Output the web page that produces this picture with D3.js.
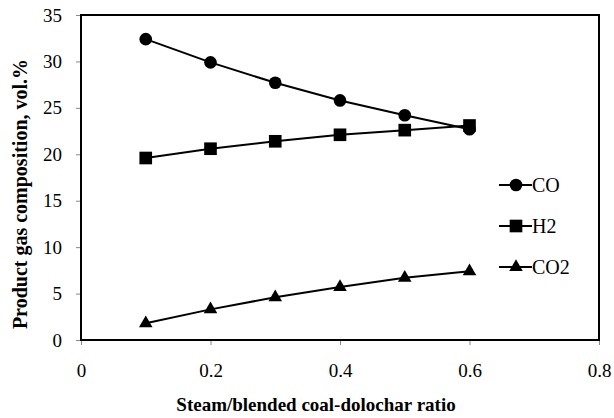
<!DOCTYPE html>
<html>
<head>
<meta charset="utf-8">
<script src="https://cdn.jsdelivr.net/npm/d3@7"></script>
<style>
  body { margin: 0; background: #fff; }
</style>
</head>
<body>
<svg id="chart" width="614" height="418"></svg>
<script>
// Data
const ratios = [0.1, 0.2, 0.3, 0.4, 0.5, 0.6]
const coValues = [32.4, 29.9, 27.7, 25.8, 24.2, 22.7]
const h2Values = [19.6, 20.6, 21.4, 22.1, 22.6, 23.1]
const co2Values = [1.8, 3.3, 4.6, 5.7, 6.7, 7.4]
const seriesNames = ['CO', 'H2', 'CO2']
const xTicks = [0, 0.2, 0.4, 0.6, 0.8]
const yTicks = [0, 5, 10, 15, 20, 25, 30, 35]

const FONT = 'Liberation Serif'
const margin = { top: 15, right: 15, bottom: 78, left: 81 }
const width = 614 - margin.left - margin.right
const height = 418 - margin.top - margin.bottom

const svg = d3.select('#chart')
const g = svg.append('g').attr('transform', `translate(${margin.left},${margin.top})`)

const x = d3.scaleLinear().domain([0, 0.8]).range([0, width])
const y = d3.scaleLinear().domain([0, 35]).range([height, 0])

// Axes
const xAxis = g.append('g')
  .attr('transform', `translate(0,${height})`)
  .call(d3.axisBottom(x).tickValues(xTicks).tickFormat(d => d === 0 ? '0' : d3.format('.1f')(d)).tickSize(5).tickPadding(19))
const yAxis = g.append('g')
  .call(d3.axisLeft(y).tickValues(yTicks).tickSize(5).tickPadding(14))

;[xAxis, yAxis].forEach(a => {
  a.attr('font-family', FONT).attr('font-size', 19)
  a.select('.domain').remove()
  a.selectAll('.tick line').attr('stroke', '#888').attr('stroke-width', 1)
  a.selectAll('.tick text').attr('fill', '#000')
})

// Plot frame
g.append('rect')
  .attr('x', 0).attr('y', 0)
  .attr('width', width).attr('height', height)
  .attr('fill', 'none')
  .attr('stroke', '#000')
  .attr('stroke-width', 2)

const series = [
  { name: seriesNames[0], values: coValues, symbol: d3.symbolCircle, size: 125 },
  { name: seriesNames[1], values: h2Values, symbol: d3.symbolSquare, size: 160 },
  { name: seriesNames[2], values: co2Values, symbol: d3.symbolTriangle, size: 80 }
]

const line = d3.line()
  .x((d, i) => x(ratios[i]))
  .y(d => y(d))

series.forEach(s => {
  g.append('path')
    .datum(s.values)
    .attr('d', line)
    .attr('fill', 'none')
    .attr('stroke', '#000')
    .attr('stroke-width', 2)

  g.selectAll(null)
    .data(s.values)
    .join('path')
    .attr('transform', (d, i) => `translate(${x(ratios[i])},${y(d)})`)
    .attr('d', d3.symbol().type(s.symbol).size(s.size))
    .attr('fill', '#000')
})

// Legend
const legend = g.append('g').attr('transform', `translate(${499 - margin.left},${185 - margin.top})`)
series.forEach((s, i) => {
  const row = legend.append('g').attr('transform', `translate(0,${i * 41})`)
  row.append('line')
    .attr('x1', 0).attr('x2', 33)
    .attr('stroke', '#000').attr('stroke-width', 2)
  row.append('path')
    .attr('transform', 'translate(17,0)')
    .attr('d', d3.symbol().type(s.symbol).size(s.size))
    .attr('fill', '#000')
  row.append('text')
    .attr('x', 33)
    .attr('dy', '0.35em')
    .attr('font-family', FONT)
    .attr('font-size', 20)
    .text(s.name)
})

// Axis titles
svg.append('text')
  .attr('x', 316)
  .attr('y', 411)
  .attr('text-anchor', 'middle')
  .attr('font-family', FONT)
  .attr('font-size', 19)
  .attr('font-weight', 'bold')
  .text('Steam/blended coal-dolochar  ratio')

svg.append('text')
  .attr('transform', 'translate(27,194) rotate(-90)')
  .attr('text-anchor', 'middle')
  .attr('font-family', FONT)
  .attr('font-size', 20)
  .attr('font-weight', 'bold')
  .text('Product gas composition,  vol.%')
</script>
</body>
</html>
